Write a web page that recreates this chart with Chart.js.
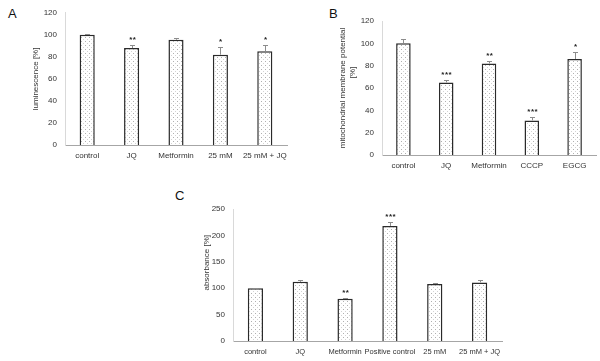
<!DOCTYPE html>
<html>
<head>
<meta charset="utf-8">
<script src="https://cdn.jsdelivr.net/npm/chart.js@4"></script>
<style>
  body { margin: 0; background: #fff; }
  #wrap { position: relative; width: 600px; height: 361px; overflow: hidden; background: #fff; }
  canvas { position: absolute; }
  .letter { position: absolute; font-family: "Liberation Sans", sans-serif; font-size: 13px; color: #111; }
</style>
</head>
<body>
<div id="wrap">
  <div class="letter" style="left:8px;top:6px">A</div>
  <div class="letter" style="left:329px;top:6px">B</div>
  <div class="letter" style="left:175px;top:188px">C</div>
  <div style="position:absolute;left:0;top:0;width:300px;height:172px"><canvas id="chartA"></canvas></div>
  <div style="position:absolute;left:300px;top:0;width:300px;height:175px"><canvas id="chartB"></canvas></div>
  <div style="position:absolute;left:150px;top:180px;width:360px;height:181px"><canvas id="chartC"></canvas></div>
</div>
<script>
// panel A - luminescence
const labelsA = ['control', 'JQ', 'Metformin', '25 mM', '25 mM + JQ'];
const valuesA = [100, 88, 95.5, 82, 85];
const errorsA = [1, 2.5, 2, 7, 6];
const starsA = ['', '**', '', '*', '*'];

// panel B - mitochondrial membrane potential
const labelsB = ['control', 'JQ', 'Metformin', 'CCCP', 'EGCG'];
const valuesB = [100, 65, 82, 31, 86];
const errorsB = [4, 2, 2, 3, 6];
const starsB = ['', '***', '**', '***', '*'];

// panel C - absorbance
const labelsC = ['control', 'JQ', 'Metformin', 'Positive control', '25 mM', '25 mM + JQ'];
const valuesC = [100, 112, 80, 218, 108, 111];
const errorsC = [0.5, 4, 1, 7, 2, 5];
const starsC = ['', '', '**', '***', '', ''];

const FONT = '"Liberation Sans", Arial, sans-serif';
const TEXT = '#333333';
const NB = '\u00a0';

function dotPattern() {
    const c = document.createElement('canvas');
    c.width = 4;
    c.height = 4;
    const g = c.getContext('2d');
    g.fillStyle = '#fff';
    g.fillRect(0, 0, 4, 4);
    g.fillStyle = '#b0b0b0';
    g.fillRect(1, 1, 1, 1);
    g.fillStyle = '#d4d4d4';
    g.fillRect(3, 3, 1, 1);
    return g.createPattern(c, 'repeat');
}

// draws the upward error bars and the significance stars
const errorBarPlugin = {
    id: 'errorBars',
    afterDatasetsDraw(chart, args, opts) {
        const ctx = chart.ctx;
        const meta = chart.getDatasetMeta(0);
        const yScale = chart.scales.y;
        ctx.save();
        meta.data.forEach((bar, i) => {
            const top = Math.round(yScale.getPixelForValue(opts.values[i] + opts.errors[i]));
            const x = Math.round(bar.x);
            ctx.strokeStyle = '#8c8c8c';
            ctx.lineWidth = 1;
            ctx.beginPath();
            ctx.moveTo(x + 0.5, bar.y);
            ctx.lineTo(x + 0.5, top);
            ctx.moveTo(x - 2, top + 0.5);
            ctx.lineTo(x + 3, top + 0.5);
            ctx.stroke();
            const s = opts.stars[i];
            if (s) {
                ctx.fillStyle = '#222';
                ctx.font = 'bold 8px ' + FONT;
                ctx.textAlign = 'center';
                ctx.textBaseline = 'top';
                const gap = 3.6;
                const start = x + 0.5 - gap * (s.length - 1) / 2;
                for (let k = 0; k < s.length; k++) {
                    ctx.fillText('*', start + k * gap, top - 9);
                }
            }
        });
        ctx.restore();
    }
};

function makeChart(id, labels, values, errors, stars, cfg) {
    const ctx = document.getElementById(id);
    return new Chart(ctx, {
        type: 'bar',
        data: {
            labels: labels,
            datasets: [{
                data: values,
                backgroundColor: dotPattern(),
                borderColor: '#2a2a2a',
                borderWidth: 1.5,
                barPercentage: 0.34,
                categoryPercentage: 1.0,
            }],
        },
        options: {
            responsive: true,
            maintainAspectRatio: false,
            animation: false,
            layout: { padding: cfg.padding },
            plugins: {
                legend: { display: false },
                tooltip: { enabled: false },
                errorBars: { values: values, errors: errors, stars: stars },
            },
            scales: {
                x: {
                    grid: { display: false, drawTicks: false },
                    border: { color: '#a6a6a6' },
                    ticks: { color: TEXT, font: { family: FONT, size: cfg.xSize }, padding: cfg.xPad, maxRotation: 0, autoSkip: false },
                    afterFit(scale) { scale.height = cfg.xHeight; },
                },
                y: {
                    min: 0,
                    max: cfg.max,
                    grid: { display: false, drawTicks: false },
                    border: { color: '#d9d9d9' },
                    ticks: { stepSize: cfg.step, color: TEXT, font: { family: FONT, size: 8 }, padding: 8 },
                    title: {
                        display: true,
                        text: cfg.title,
                        color: TEXT,
                        font: { family: FONT, size: 8 },
                        padding: { top: cfg.titlePad, bottom: 0 },
                    },
                    afterFit(scale) { scale.width = cfg.yWidth; },
                },
            },
        },
        plugins: [errorBarPlugin],
    });
}

makeChart('chartA', labelsA, valuesA, errorsA, starsA, {
    padding: { left: 0, right: 13, top: 11, bottom: 0 },
    xHeight: 27, xPad: 6, xSize: 8, max: 120, step: 20,
    title: 'luminescence [%]', titlePad: 31, yWidth: 65,
});

makeChart('chartB', labelsB, valuesB, errorsB, starsB, {
    padding: { left: 0, right: 4, top: 21, bottom: 0 },
    xHeight: 20, xPad: 6, xSize: 8, max: 120, step: 20,
    title: ['mitochondrial membrane potential', NB.repeat(14) + '[%]'], titlePad: 38, yWidth: 82,
});

makeChart('chartC', labelsC, valuesC, errorsC, starsC, {
    padding: { left: 0, right: 8, top: 29, bottom: 0 },
    xHeight: 20, xPad: 6, xSize: 7.5, max: 250, step: 50,
    title: NB.repeat(11) + 'absorbance [%]', titlePad: 52, yWidth: 83,
});
</script>
</body>
</html>
